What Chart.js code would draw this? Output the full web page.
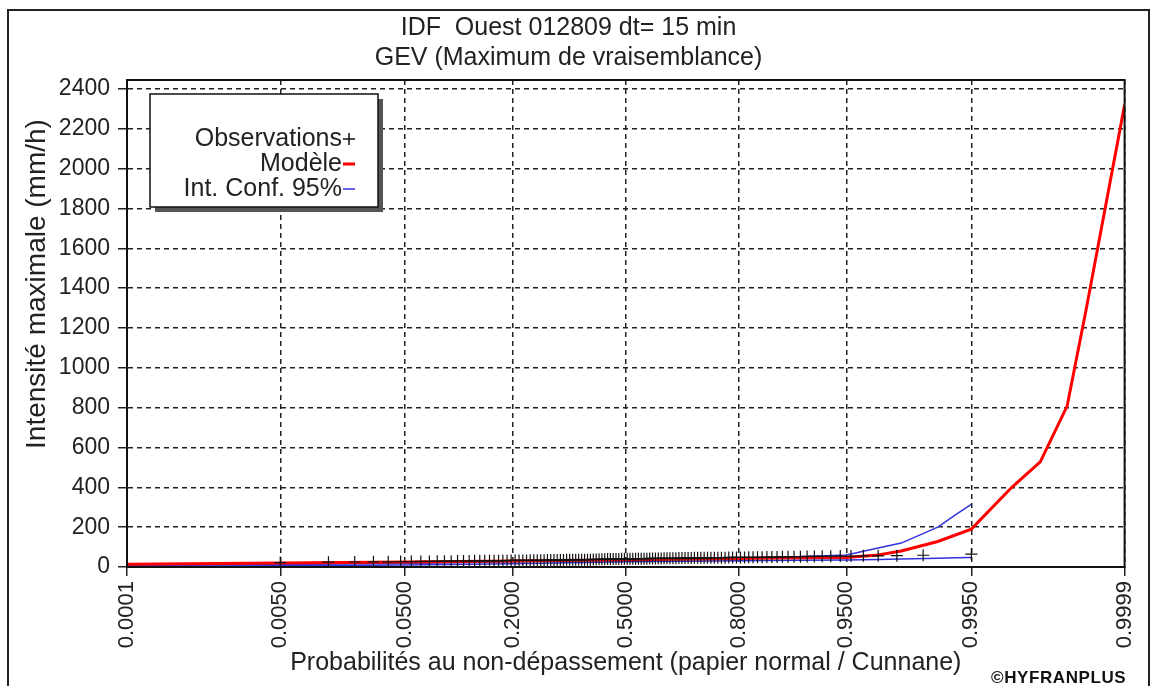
<!DOCTYPE html>
<html>
<head>
<meta charset="utf-8">
<script src="https://cdn.jsdelivr.net/npm/chart.js@4.4.1/dist/chart.umd.min.js"></script>
<style>
  html, body { margin: 0; padding: 0; background: #fff; }
  #wrap { position: relative; width: 1156px; height: 686px; overflow: hidden; }
  #frame { position: absolute; left: 7px; top: 9px; width: 1143px; height: 700px; border: 2px solid #222; box-sizing: border-box; }
  canvas { position: absolute; left: 0; top: 0; }
  #copy { position: absolute; left: 991px; top: 668px; font: bold 17px 'Liberation Sans', Arial, sans-serif; color: #111; letter-spacing: 0.6px; }
</style>
</head>
<body>
<div id="wrap">
  <div id="frame"></div>
  <canvas id="gevChart" width="1156" height="686"></canvas>
  <div id="copy">©HYFRANPLUS</div>
</div>
<script>
// axis ticks (probability paper) and y ticks
const probTicks = [0.0001, 0.005, 0.05, 0.2, 0.5, 0.8, 0.95, 0.995, 0.9999];
const tickLabels = ['0.0001', '0.0050', '0.0500', '0.2000', '0.5000', '0.8000', '0.9500', '0.9950', '0.9999'];
const yTicks = [0, 200, 400, 600, 800, 1000, 1200, 1400, 1600, 1800, 2000, 2200, 2400];

// observed maxima, sorted (mm/h)
const obsValues = [
  22, 24, 25, 26, 26, 27, 27, 28, 28, 29,
  29, 29, 30, 30, 30, 31, 31, 31, 31, 32,
  32, 32, 32, 33, 33, 33, 33, 33, 34, 34,
  34, 34, 34, 35, 35, 35, 35, 35, 35, 36,
  36, 36, 36, 36, 37, 37, 37, 37, 38, 38,
  39, 39, 39, 40, 40, 40, 40, 40, 41, 41,
  41, 41, 41, 42, 42, 42, 42, 42, 43, 43,
  43, 43, 43, 44, 44, 44, 44, 44, 45, 45,
  45, 45, 45, 46, 46, 46, 46, 46, 47, 47,
  47, 47, 47, 48, 48, 48, 48, 48, 49, 49,
  49, 49, 50, 50, 50, 51, 51, 52, 52, 53,
  53, 54, 54, 55, 55, 56, 56, 57, 59, 65
];

// GEV model
const modelProb = [0.0001, 0.005, 0.05, 0.2, 0.5, 0.8, 0.9, 0.95, 0.97, 0.98, 0.99, 0.995, 0.998, 0.999, 0.9995, 0.9997, 0.9999];
const modelValues = [14, 20, 25, 30, 36, 43, 46, 48, 60, 80, 128, 190, 400, 528, 808, 1290, 2320];

// 95% confidence interval
const ciProb = [0.0001, 0.005, 0.05, 0.2, 0.5, 0.8, 0.9, 0.95, 0.97, 0.98, 0.99, 0.993, 0.995];
const ciUpper = [8, 12, 18, 26, 36, 46, 52, 60, 95, 120, 200, 262, 315];
const ciLower = [4, 6, 10, 16, 26, 32, 34, 35, 38, 40, 44, 46, 48];

const yTitle = 'Intensité maximale (mm/h)';

// inverse normal cdf (Acklam) -> position on normal paper
function zOf(p) {
  const a = [-39.69683028665376, 220.9460984245205, -275.9285104469687, 138.357751867269, -30.66479806614716, 2.506628277459239];
  const b = [-54.47609879822406, 161.5858368580409, -155.6989798598866, 66.80131188771972, -13.28068155288572];
  const c = [-0.007784894002430293, -0.3223964580411365, -2.400758277161838, -2.549732539343734, 4.374664141464968, 2.938163982698783];
  const d = [0.007784695709041462, 0.3224671290700398, 2.445134137142996, 3.754408661907416];
  const pl = 0.02425;
  let q, r;
  if (p < pl) {
    q = Math.sqrt(-2 * Math.log(p));
    return (((((c[0]*q+c[1])*q+c[2])*q+c[3])*q+c[4])*q+c[5]) / ((((d[0]*q+d[1])*q+d[2])*q+d[3])*q+1);
  }
  if (p > 1 - pl) {
    q = Math.sqrt(-2 * Math.log(1 - p));
    return -(((((c[0]*q+c[1])*q+c[2])*q+c[3])*q+c[4])*q+c[5]) / ((((d[0]*q+d[1])*q+d[2])*q+d[3])*q+1);
  }
  q = p - 0.5; r = q * q;
  return (((((a[0]*r+a[1])*r+a[2])*r+a[3])*r+a[4])*r+a[5])*q / (((((b[0]*r+b[1])*r+b[2])*r+b[3])*r+b[4])*r+1);
}

// Cunnane plotting positions
const n = obsValues.length;
const obsPoints = obsValues.map((v, i) => ({ x: zOf((i + 1 - 0.4) / (n + 0.2)), y: v }));
const toPts = (ps, vs) => ps.map((p, i) => ({ x: zOf(p), y: vs[i] }));

Chart.defaults.font.family = "'Liberation Sans', Arial, sans-serif";
Chart.defaults.color = '#222';

const frame = {
  id: 'frame',
  afterDraw(chart) {
    const { ctx, chartArea: a } = chart;
    ctx.save();
    ctx.strokeStyle = '#111';
    ctx.lineWidth = 2;
    ctx.strokeRect(a.left, a.top, a.right - a.left, a.bottom - a.top);
    // y axis title, placed like the original (not centred on the axis)
    ctx.translate(37, 284);
    ctx.rotate(-Math.PI / 2);
    ctx.font = "28px 'Liberation Sans', Arial, sans-serif";
    ctx.fillStyle = '#222';
    ctx.textAlign = 'center';
    ctx.textBaseline = 'middle';
    ctx.fillText(yTitle, 0, 0);
    ctx.restore();
  }
};

// boxed legend, text right aligned with symbol after it
const boxLegend = {
  id: 'boxLegend',
  afterDraw(chart) {
    const { ctx } = chart;
    const x = 150, y = 94, w = 228, h = 113;
    ctx.save();
    ctx.fillStyle = '#555';
    ctx.fillRect(x + 5, y + h, w, 5);
    ctx.fillRect(x + w, y + 5, 5, h);
    ctx.fillStyle = '#fff';
    ctx.fillRect(x, y, w, h);
    ctx.strokeStyle = '#111';
    ctx.lineWidth = 1.5;
    ctx.strokeRect(x, y, w, h);
    ctx.font = "25px 'Liberation Sans', Arial, sans-serif";
    ctx.textAlign = 'right';
    ctx.textBaseline = 'middle';
    const rows = [139, 164, 189];
    chart.data.datasets.slice(0, 3).forEach((ds, i) => {
      const ry = rows[i];
      ctx.fillStyle = '#222';
      ctx.fillText(ds.label, 342, ry);
      ctx.strokeStyle = ds.borderColor;
      ctx.lineWidth = i === 0 ? 1.5 : ds.borderWidth;
      ctx.beginPath();
      ctx.moveTo(343, ry);
      ctx.lineTo(355, ry);
      if (i === 0) { ctx.moveTo(349, ry - 6); ctx.lineTo(349, ry + 6); }
      ctx.stroke();
    });
    ctx.restore();
  }
};

const gridStyle = { color: '#222', lineWidth: 1.5, tickLength: 9, tickColor: '#222', tickWidth: 1.5 };
const borderStyle = { display: true, color: '#111', width: 2, dash: [5, 4] };

new Chart(document.getElementById('gevChart'), {
  type: 'line',
  data: {
    datasets: [
      {
        label: 'Observations',
        data: obsPoints,
        showLine: false,
        pointStyle: 'cross',
        pointRadius: 6,
        borderColor: '#111',
        borderWidth: 1.2
      },
      {
        label: 'Modèle',
        data: toPts(modelProb, modelValues),
        borderColor: '#ff0000',
        borderWidth: 3,
        pointRadius: 0,
        tension: 0
      },
      {
        label: 'Int. Conf. 95%',
        data: toPts(ciProb, ciUpper),
        borderColor: '#3232dc',
        borderWidth: 1.5,
        pointRadius: 0,
        tension: 0
      },
      {
        label: 'Int. Conf. 95% (inf)',
        data: toPts(ciProb, ciLower),
        borderColor: '#3232dc',
        borderWidth: 1.5,
        pointRadius: 0,
        tension: 0
      }
    ]
  },
  options: {
    responsive: false,
    animation: false,
    layout: { padding: { left: 10, right: 29, top: 0, bottom: 6 } },
    plugins: {
      legend: { display: false },
      tooltip: { enabled: false },
      title: {
        display: true,
        text: ['IDF  Ouest 012809 dt= 15 min', 'GEV (Maximum de vraisemblance)'],
        font: { size: 25, weight: 'normal', lineHeight: 1.2 },
        color: '#222',
        padding: { top: 13, bottom: 7 }
      }
    },
    scales: {
      x: {
        type: 'linear',
        min: zOf(0.0001),
        max: zOf(0.9999),
        afterBuildTicks: s => { s.ticks = probTicks.map(p => ({ value: zOf(p) })); },
        afterFit: s => { s.height = 686 - 567 - 6; },
        ticks: {
          callback: (v, i) => tickLabels[i],
          minRotation: 90,
          maxRotation: 90,
          autoSkip: false,
          font: { size: 22 },
          padding: 5
        },
        grid: gridStyle,
        border: borderStyle,
        title: {
          display: true,
          text: 'Probabilités au non-dépassement (papier normal / Cunnane)',
          font: { size: 25 },
          padding: { top: 0, bottom: 2 }
        }
      },
      y: {
        min: 0,
        max: 2445,
        afterBuildTicks: s => { s.ticks = yTicks.map(v => ({ value: v })); },
        afterFit: s => { s.width = 117; },
        ticks: { font: { size: 23 }, padding: 8, callback: v => String(v) },
        grid: gridStyle,
        border: borderStyle
      }
    }
  },
  plugins: [frame, boxLegend]
});
</script>
</body>
</html>
